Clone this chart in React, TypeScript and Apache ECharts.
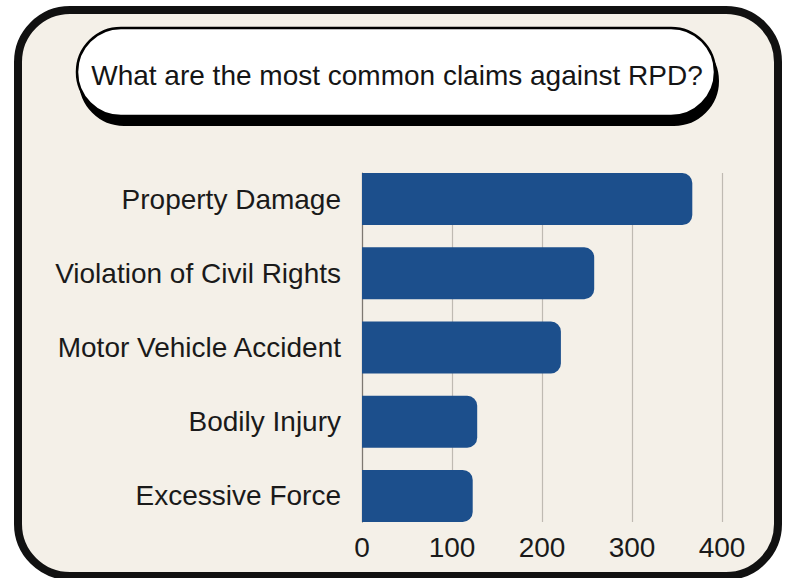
import React, { useEffect, useRef } from "react";
import * as echarts from "echarts";

const categories = [
  "Property Damage",
  "Violation of Civil Rights",
  "Motor Vehicle Accident",
  "Bodily Injury",
  "Excessive Force",
];
const claimCounts = [367, 258, 221, 128, 123];
const xTicks = [0, 100, 200, 300, 400];
const titleText = "What are the most common claims against RPD?";

const FONT = "'Liberation Sans', Arial, sans-serif";

export default function App() {
  const ref = useRef<HTMLDivElement>(null);
  useEffect(() => {
    document.body.style.margin = "0";
    const chart = echarts.init(ref.current!, null, { renderer: "svg" });
    const xMin = xTicks[0];
    const xMax = xTicks[xTicks.length - 1];
    const interval = xTicks[1] - xTicks[0];
    chart.setOption({
      animation: false,
      backgroundColor: "#ffffff",
      graphic: [
        {
          type: "rect",
          z: -10,
          shape: { x: 18, y: 10, width: 760, height: 566, r: 52 },
          style: { fill: "#f4f0e8", stroke: "#111111", lineWidth: 8 },
        },
        {
          type: "rect",
          z: 10,
          shape: { x: 80, y: 37, width: 638, height: 88, r: 44 },
          style: { fill: "#000000", stroke: "#000000", lineWidth: 2 },
        },
        {
          type: "rect",
          z: 11,
          shape: { x: 77, y: 28, width: 638, height: 88, r: 44 },
          style: { fill: "#ffffff", stroke: "#000000", lineWidth: 2.5 },
        },
        {
          type: "text",
          z: 12,
          x: 397,
          y: 75,
          style: {
            text: titleText,
            fontFamily: FONT,
            fontSize: 28,
            fill: "#151515",
            align: "center",
            verticalAlign: "middle",
          },
        },
      ],
      grid: [
        { left: 362, top: 173, width: 360, height: 349 },
        { left: 362, top: 162, width: 360, height: 371 },
      ],
      xAxis: [
        {
          type: "value",
          gridIndex: 0,
          min: xMin,
          max: xMax,
          interval,
          axisLine: { show: false },
          axisTick: { show: false },
          splitLine: { show: true, lineStyle: { color: "#bfbab2", width: 1.2 } },
          axisLabel: {
            fontFamily: FONT,
            fontSize: 28,
            color: "#1a1a1a",
            margin: 11,
          },
        },
        {
          type: "value",
          gridIndex: 1,
          min: xMin,
          max: xMax,
          show: false,
        },
      ],
      yAxis: [
        {
          type: "category",
          gridIndex: 0,
          data: categories,
          inverse: true,
          axisLine: { show: true, lineStyle: { color: "#7d7872", width: 1.2 } },
          axisTick: { show: false },
          axisLabel: { show: false },
          splitLine: { show: false },
        },
        {
          type: "category",
          gridIndex: 1,
          data: categories,
          inverse: true,
          axisLine: { show: false },
          axisTick: { show: false },
          splitLine: { show: false },
          axisLabel: {
            fontFamily: FONT,
            fontSize: 28,
            color: "#1a1a1a",
            margin: 21,
            padding: [0, 0, 4, 0],
          },
        },
      ],
      series: [
        {
          type: "bar",
          xAxisIndex: 1,
          yAxisIndex: 1,
          data: claimCounts,
          barWidth: 52,
          itemStyle: { color: "#1c4f8c", borderRadius: [0, 10, 10, 0] },
          z: 5,
        },
      ],
    });
    return () => chart.dispose();
  }, []);
  return (
    <div
      ref={ref}
      style={{ position: "fixed", left: 0, top: 0, width: 788, height: 578 }}
    />
  );
}
